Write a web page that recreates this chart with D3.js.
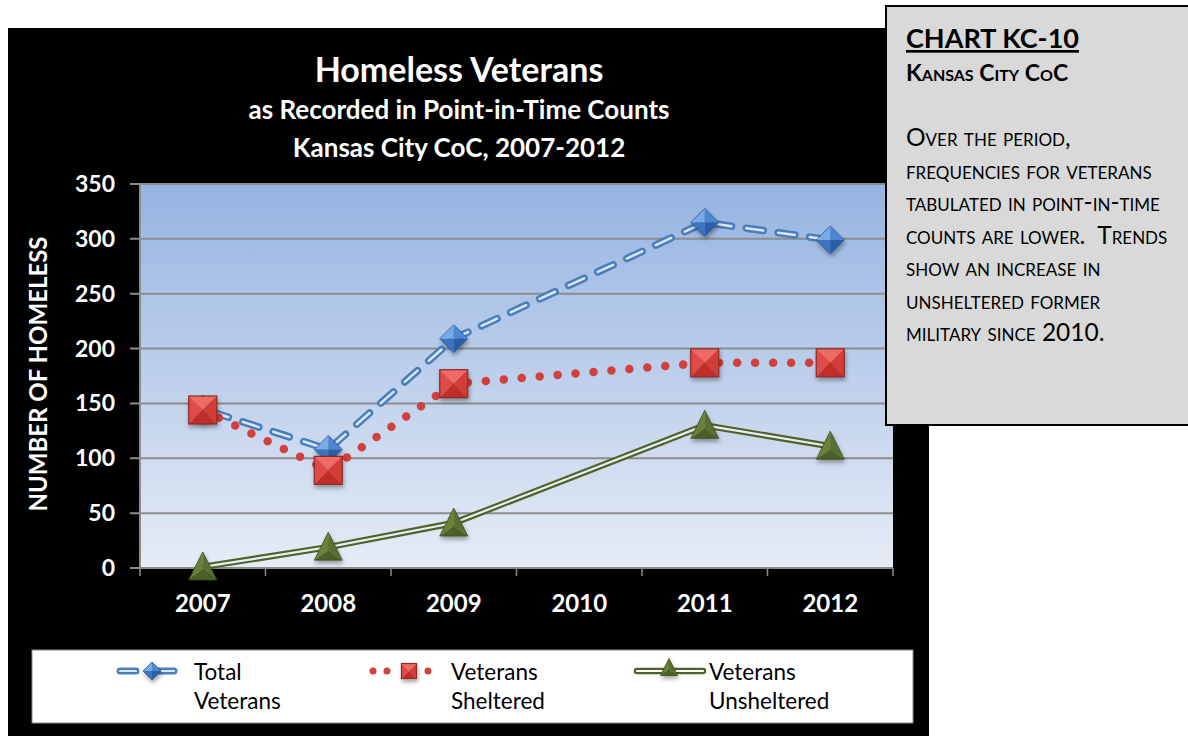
<!DOCTYPE html>
<html><head><meta charset="utf-8">
<script src="https://cdn.jsdelivr.net/npm/d3@7"></script>
<style>html,body{margin:0;padding:0;background:#fff;}svg{display:block;}</style>
</head><body>
<svg id="chart" width="1188" height="736"></svg>
<script>
const years = ["2007","2008","2009","2010","2011","2012"];
const totalVeterans = [145, 108, 209, null, 315, 299];
const vetsSheltered = [144, 89, 168, null, 187, 187];
const vetsUnsheltered = [1, 19, 41, null, 130, 111];
const yTickValues = [0, 50, 100, 150, 200, 250, 300, 350];
const seriesNames = [["Total", "Veterans"], ["Veterans", "Sheltered"], ["Veterans", "Unsheltered"]];
const titleLines = ["Homeless Veterans", "as Recorded in Point-in-Time Counts", "Kansas City CoC, 2007-2012"];
const yAxisTitle = "NUMBER OF HOMELESS";
const boxTitle = "CHART KC-10";
const boxSubtitle = "Kansas City CoC";
const boxLines = ["Over the period,", "frequencies for veterans", "tabulated in point-in-time", "counts are lower.  Trends", "show an increase in", "unsheltered former", "military since "];

const svg = d3.select("#chart");
const FONT = "Lato, 'Open Sans', sans-serif";
const defs = svg.append("defs");

const bg = defs.append("linearGradient").attr("id","plotbg").attr("x1",0).attr("y1",0).attr("x2",0).attr("y2",1);
bg.append("stop").attr("offset","0%").attr("stop-color","#95b3e1");
bg.append("stop").attr("offset","100%").attr("stop-color","#e6ecf6");

const sh = defs.append("filter").attr("id","shadow").attr("x","-50%").attr("y","-50%").attr("width","200%").attr("height","200%");
sh.append("feDropShadow").attr("dx",1).attr("dy",3).attr("stdDeviation",2).attr("flood-color","#000").attr("flood-opacity",0.35);

svg.append("rect").attr("x",8).attr("y",28).attr("width",921).attr("height",720).attr("fill","#000");

const plot = {left:140, right:893, top:184, bottom:568};
svg.append("rect").attr("x",plot.left).attr("y",plot.top).attr("width",plot.right-plot.left).attr("height",plot.bottom-plot.top).attr("fill","url(#plotbg)");

const x = d3.scalePoint().domain(years).range([plot.left, plot.right]).padding(0.5);
const xb = d3.scaleBand().domain(years).range([plot.left, plot.right]);
const y = d3.scaleLinear().domain([0,350]).range([plot.bottom, plot.top]);

svg.append("g").selectAll("line").data(yTickValues).join("line")
  .attr("x1",plot.left-10).attr("x2",plot.right).attr("y1",d=>y(d)).attr("y2",d=>y(d))
  .attr("stroke","#8c8c8c").attr("stroke-width",2);
svg.append("line").attr("x1",plot.left).attr("x2",plot.left).attr("y1",plot.top).attr("y2",plot.bottom).attr("stroke","#8c8c8c").attr("stroke-width",2);
const xTickPos = years.map(d=>xb(d)).concat([plot.right]);
svg.append("g").selectAll("line").data(xTickPos).join("line")
  .attr("x1",d=>d).attr("x2",d=>d).attr("y1",plot.bottom).attr("y2",plot.bottom+8)
  .attr("stroke","#8c8c8c").attr("stroke-width",1.5);

svg.append("g").selectAll("text").data(yTickValues).join("text")
  .attr("x",115).attr("y",d=>y(d)+8).attr("text-anchor","end")
  .attr("font-family",FONT).attr("font-weight",700).attr("font-size",23).attr("fill","#fff").text(d=>d);
svg.append("g").selectAll("text").data(years).join("text")
  .attr("x",d=>x(d)).attr("y",612).attr("text-anchor","middle")
  .attr("font-family",FONT).attr("font-weight",700).attr("font-size",24).attr("fill","#fff").text(d=>d);
svg.append("text").attr("transform","translate(47,374) rotate(-90)").attr("text-anchor","middle")
  .attr("font-family",FONT).attr("font-weight",700).attr("font-size",24).attr("fill","#fff").text(yAxisTitle);

svg.append("text").attr("x",459).attr("y",82).attr("text-anchor","middle").attr("font-family",FONT).attr("font-weight",700).attr("font-size",34).attr("fill","#fff").text(titleLines[0]);
svg.append("text").attr("x",459).attr("y",119).attr("text-anchor","middle").attr("font-family",FONT).attr("font-weight",700).attr("font-size",26).attr("fill","#fff").text(titleLines[1]);
svg.append("text").attr("x",459).attr("y",157).attr("text-anchor","middle").attr("font-family",FONT).attr("font-weight",700).attr("font-size",26).attr("fill","#fff").text(titleLines[2]);

function pts(vals){ return years.map((yr,i)=>({yr, v:vals[i]})).filter(d=>d.v!==null); }
const line = d3.line().x(d=>x(d.yr)).y(d=>y(d.v));

const gLines = svg.append("g");
gLines.append("path").attr("d",line(pts(totalVeterans))).attr("fill","none").attr("stroke","#4a7ebb").attr("stroke-width",7.5)
  .attr("stroke-dasharray","17 15").attr("stroke-linecap","round").attr("stroke-dashoffset",-10);
gLines.append("path").attr("d",line(pts(totalVeterans))).attr("fill","none").attr("stroke","#dbe6f5").attr("stroke-width",2.5)
  .attr("stroke-dasharray","17 15").attr("stroke-linecap","round").attr("stroke-dashoffset",-10);
gLines.append("path").attr("d",line(pts(vetsSheltered))).attr("fill","none").attr("stroke","#d0403c").attr("stroke-width",8.5)
  .attr("stroke-dasharray","0 18").attr("stroke-linecap","round");
gLines.append("path").attr("d",line(pts(vetsUnsheltered))).attr("fill","none").attr("stroke","#4f6228").attr("stroke-width",6.5);
gLines.append("path").attr("d",line(pts(vetsUnsheltered))).attr("fill","none").attr("stroke","#e8eef6").attr("stroke-width",2.2);

function diamond(g, cx, cy, s){
  const h = s/2;
  const m = g.append("g").attr("transform",`translate(${cx},${cy})`).attr("filter","url(#shadow)");
  m.append("path").attr("d",`M0,${-h}L${-h},0L0,0Z`).attr("fill","#7aaae6");
  m.append("path").attr("d",`M0,${-h}L${h},0L0,0Z`).attr("fill","#4d87d2");
  m.append("path").attr("d",`M${-h},0L0,${h}L0,0Z`).attr("fill","#3a74c2");
  m.append("path").attr("d",`M${h},0L0,${h}L0,0Z`).attr("fill","#2a5ea8");
  m.append("path").attr("d",`M0,${-h}L${h},0L0,${h}L${-h},0Z`).attr("fill","none").attr("stroke","#2b5797").attr("stroke-width",0.8);
}
function square(g, cx, cy, s){
  const h = s/2;
  const m = g.append("g").attr("transform",`translate(${cx},${cy})`).attr("filter","url(#shadow)");
  m.append("path").attr("d",`M${-h},${-h}L${h},${-h}L0,0Z`).attr("fill","#f06a66");
  m.append("path").attr("d",`M${-h},${-h}L${-h},${h}L0,0Z`).attr("fill","#e04b47");
  m.append("path").attr("d",`M${h},${-h}L${h},${h}L0,0Z`).attr("fill","#d23c38");
  m.append("path").attr("d",`M${-h},${h}L${h},${h}L0,0Z`).attr("fill","#c02f2b");
  m.append("rect").attr("x",-h).attr("y",-h).attr("width",s).attr("height",s).attr("fill","none").attr("stroke","#8c2a27").attr("stroke-width",1.2);
}
function triangle(g, cx, cy, s){
  const h = s/2;
  const m = g.append("g").attr("transform",`translate(${cx},${cy})`).attr("filter","url(#shadow)");
  m.append("path").attr("d",`M0,${-h}L${-h},${h}L0,${h*0.3}Z`).attr("fill","#6a8139");
  m.append("path").attr("d",`M0,${-h}L${h},${h}L0,${h*0.3}Z`).attr("fill","#5a7030");
  m.append("path").attr("d",`M${-h},${h}L${h},${h}L0,${h*0.3}Z`).attr("fill","#4b5f27");
  m.append("path").attr("d",`M0,${-h}L${h},${h}L${-h},${h}Z`).attr("fill","none").attr("stroke","#3c4d1e").attr("stroke-width",0.8);
}
const gMarks = svg.append("g");
pts(totalVeterans).forEach(d=>diamond(gMarks, x(d.yr), y(d.v), 28));
pts(vetsSheltered).forEach(d=>square(gMarks, x(d.yr), y(d.v), 28));
pts(vetsUnsheltered).forEach(d=>triangle(gMarks, x(d.yr), y(d.v)-1, 28));

svg.append("rect").attr("x",32).attr("y",650).attr("width",881).attr("height",73).attr("fill","#fff").attr("stroke","#8c8c8c").attr("stroke-width",1);
const lg = svg.append("g");
[[120,136],[158,174]].forEach(([a,b])=>{
  lg.append("line").attr("x1",a).attr("x2",b).attr("y1",671).attr("y2",671).attr("stroke","#4a7ebb").attr("stroke-width",7).attr("stroke-linecap","round");
  lg.append("line").attr("x1",a).attr("x2",b).attr("y1",671).attr("y2",671).attr("stroke","#dbe6f5").attr("stroke-width",2.2).attr("stroke-linecap","round");
});
diamond(lg, 152, 671, 18);
[373,387,428].forEach(cx=>lg.append("circle").attr("cx",cx).attr("cy",671).attr("r",3.5).attr("fill","#d0403c"));
square(lg, 409, 671, 15);
lg.append("line").attr("x1",637).attr("x2",703).attr("y1",671).attr("y2",671).attr("stroke","#4f6228").attr("stroke-width",6.5).attr("stroke-linecap","round");
lg.append("line").attr("x1",637).attr("x2",703).attr("y1",671).attr("y2",671).attr("stroke","#ffffff").attr("stroke-width",2.2).attr("stroke-linecap","round");
triangle(lg, 669, 667, 17);
const lx = [194, 451, 709];
seriesNames.forEach((nm,i)=>{
  nm.forEach((t,j)=>lg.append("text").attr("x",lx[i]).attr("y",680+j*29).attr("font-family",FONT).attr("font-size",22.5).attr("fill","#000").text(t));
});

svg.append("rect").attr("x",886).attr("y",6).attr("width",310).attr("height",419).attr("fill","#d9d9d9").attr("stroke","#000").attr("stroke-width",2);
svg.append("text").attr("x",906).attr("y",48).attr("font-family",FONT).attr("font-weight",700).attr("font-size",27).attr("fill","#000")
  .attr("text-decoration","underline").text(boxTitle);
svg.append("text").attr("x",906).attr("y",81).attr("font-family",FONT).attr("font-weight",700).attr("font-size",23).attr("fill","#000")
  .style("font-variant","small-caps").text(boxSubtitle);
boxLines.forEach((t,i)=>{
  const tx = svg.append("text").attr("x",906).attr("y",146+i*32.5).attr("font-family",FONT).attr("font-size",24.5).attr("fill","#000")
    .style("font-variant","small-caps").style("white-space","pre");
  tx.append("tspan").text(t);
  if(i===boxLines.length-1) tx.append("tspan").style("font-variant","normal").text("2010.");
});
</script>
</body></html>
